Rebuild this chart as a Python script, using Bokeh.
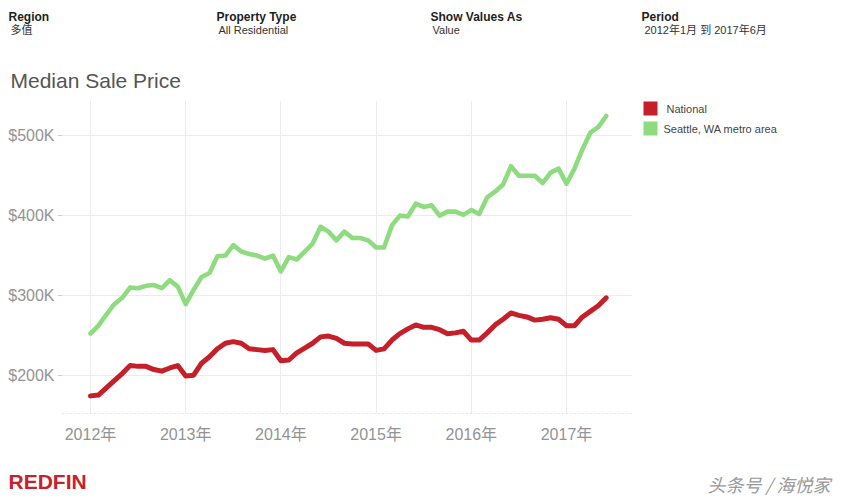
from bokeh.plotting import figure
from bokeh.layouts import column, row
from bokeh.models import Range1d, FixedTicker, Label, BoxAnnotation
from bokeh.embed import file_html
from bokeh.resources import INLINE

# ---------------- data (thousands of USD, monthly Jan 2012 - Jun 2017) -------------
years = [2012, 2013, 2014, 2015, 2016, 2017]
year_labels = ["2012年", "2013年", "2014年", "2015年", "2016年", "2017年"]
price_ticks = [200, 300, 400, 500]
price_labels = ["$200K", "$300K", "$400K", "$500K"]

national = [174, 175, 184, 193, 202, 212, 211, 211, 207, 205, 209, 212,
            199, 200, 215, 223, 233, 240, 242, 240, 233, 232, 231, 232,
            218, 219, 228, 234, 240, 248, 249, 246, 240, 239, 239, 239,
            231, 233, 244, 252, 258, 263, 260, 260, 257, 252, 253, 255,
            244, 244, 253, 263, 270, 278, 275, 273, 269, 270, 272, 270,
            262, 262, 273, 280, 287, 297]
seattle = [252, 262, 276, 289, 297, 310, 309, 312, 313, 309, 319, 311,
           289, 307, 323, 328, 349, 350, 363, 355, 352, 350, 346, 350,
           330, 348, 345, 355, 365, 386, 380, 369, 380, 372, 372, 369,
           360, 360, 388, 400, 399, 415, 411, 413, 400, 405, 405, 401,
           407, 402, 423, 430, 439, 462, 450, 450, 450, 441, 454, 459,
           440, 459, 483, 504, 511, 525]
months = [y + m / 12 for y in years for m in range(12)][:len(national)]

series_names = ["National", "Seattle, WA metro area"]
series_colors = ["#c5202a", "#8fdb80"]

header_titles = ["Region", "Property Type", "Show Values As", "Period"]
header_values = ["多值", "All Residential", "Value", "2012年1月 到 2017年6月"]

FONT = "Liberation Sans, Noto Sans CJK SC"
TOTAL_W = 845


def blank_fig(w, h, top=0, bottom=0):
    f = figure(width=w, height=h, output_backend="svg", toolbar_location=None,
               x_range=Range1d(0, 1), y_range=Range1d(0, 1),
               x_axis_type=None, y_axis_type=None,
               min_border=0, min_border_left=0, min_border_right=0,
               min_border_top=top, min_border_bottom=bottom)
    f.outline_line_color = None
    f.xgrid.visible = False
    f.ygrid.visible = False
    f.border_fill_color = "white"
    f.background_fill_color = "white"
    return f


def add_text(f, left, frame_bottom, px, py, text, size, color, style="normal", font=FONT):
    f.add_layout(Label(x=px - left, y=frame_bottom - py, x_units="screen", y_units="screen",
                       text=text, text_font=font, text_font_size=size, text_color=color,
                       text_font_style=style, text_baseline="middle", text_align="left"))


# ---------------- header (page y 0-95) -------------
HH = 95
header = blank_fig(TOTAL_W, HH)
header_x = [8, 216, 430, 641]
header_x2 = [10, 218, 432, 644]
for hx, hx2, t, v in zip(header_x, header_x2, header_titles, header_values):
    add_text(header, 0, HH, hx, 16, t, "12px", "#1e1e1e", "bold")
    add_text(header, 0, HH, hx2, 29, v, "11px", "#333333")
add_text(header, 0, HH, 10, 80, "Median Sale Price", "21px", "#555555")

# ---------------- main chart (page y 95-445, x 0-640) -------------
MT, MB = 95, 445
MW = 640
FL, FT, FR, FB = 62, 100, 632, 418  # frame edges in page pixels
p = figure(width=MW, height=MB - MT, output_backend="svg", toolbar_location=None,
           x_range=Range1d(2011.706, 2017.693), y_range=Range1d(151.9, 544.4),
           min_border_left=FL, min_border_right=MW - FR,
           min_border_top=FT - MT, min_border_bottom=MB - FB)
p.outline_line_color = None
p.background_fill_color = "white"
p.border_fill_color = "white"

p.line(months, seattle, line_color=series_colors[1], line_width=4.6, line_join="round", line_cap="round")
p.line(months, national, line_color=series_colors[0], line_width=5, line_join="round", line_cap="round")

xa = p.xaxis[0]
xa.ticker = FixedTicker(ticks=years)
xa.major_label_overrides = {y: l for y, l in zip(years, year_labels)}
xa.major_label_text_font = FONT
xa.major_label_text_font_size = "16px"
xa.major_label_text_color = "#939393"
xa.major_tick_line_color = None
xa.minor_tick_line_color = None
xa.axis_line_color = "#cfcfcf"
xa.axis_line_dash = "1 3"
xa.major_label_standoff = 6

ya = p.yaxis[0]
ya.ticker = FixedTicker(ticks=price_ticks)
ya.major_label_overrides = {t: l for t, l in zip(price_ticks, price_labels)}
ya.major_label_text_font = FONT
ya.major_label_text_font_size = "16px"
ya.major_label_text_color = "#939393"
ya.major_tick_line_color = "#d0d0d0"
ya.major_tick_out = 5
ya.major_tick_in = 0
ya.minor_tick_line_color = None
ya.axis_line_color = None
ya.major_label_standoff = 3

p.xgrid.grid_line_color = "#ececec"
p.ygrid.grid_line_color = "#ececec"

# ---------------- legend panel (page x 640-845; frame aligned with chart frame) -------------
LL = MW
LEG_SHIFT = 4
leg = blank_fig(TOTAL_W - MW, MB - MT, top=FT - MT, bottom=MB - FB)
for i, (name, col) in enumerate(zip(series_names, series_colors)):
    top = 102 + LEG_SHIFT + 20 * i
    leg.add_layout(BoxAnnotation(left=643 - LL, right=657 - LL,
                                 top=FB - top, bottom=FB - (top + 14),
                                 left_units="screen", right_units="screen",
                                 top_units="screen", bottom_units="screen",
                                 fill_color=col, fill_alpha=1, line_color=None))
    add_text(leg, LL, FB, 666 if i == 0 else 663, top + 7, name, "11px", "#444444")

# ---------------- footer (page y 445-495) -------------
FH = 50
footer = blank_fig(TOTAL_W, FH)
add_text(footer, 0, MB + FH, 8, 481, "REDFIN", "21px", "#c7212c", "bold")
add_text(footer, 0, MB + FH, 707, 483, "头条号 / 海悦家", "18px", "#9a9a9a", "italic", "Noto Sans CJK SC")

layout = column(header, row(p, leg, spacing=0), footer, spacing=0)
open("out.html", "w").write(file_html(layout, INLINE))
